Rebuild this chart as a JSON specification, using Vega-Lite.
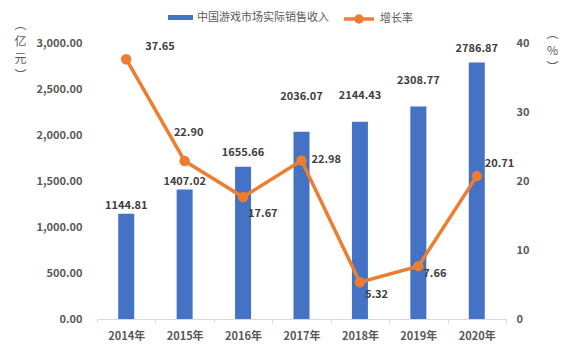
{
  "$schema": "https://vega.github.io/schema/vega-lite/v6.json",
  "width": 409,
  "height": 276,
  "autosize": {"type": "none"},
  "padding": {"left": 97, "top": 43, "right": 61, "bottom": 37},
  "background": "white",
  "config": {
    "font": "Noto Sans CJK SC",
    "view": {"stroke": null},
    "text": {"font": "Noto Sans CJK SC", "fontSize": 11, "fontWeight": "bold", "color": "#404040"},
    "legend": {"labelFont": "Noto Sans CJK SC", "labelFontSize": 11, "labelColor": "#595959", "title": null}
  },
  "data": {
    "values": [
      {"year": "2014年", "revenue": 1144.81, "growth": 37.65},
      {"year": "2015年", "revenue": 1407.02, "growth": 22.90},
      {"year": "2016年", "revenue": 1655.66, "growth": 17.67},
      {"year": "2017年", "revenue": 2036.07, "growth": 22.98},
      {"year": "2018年", "revenue": 2144.43, "growth": 5.32},
      {"year": "2019年", "revenue": 2308.77, "growth": 7.66},
      {"year": "2020年", "revenue": 2786.87, "growth": 20.71}
    ]
  },
  "encoding": {
    "x": {
      "field": "year", "type": "nominal", "sort": null,
      "scale": {"paddingInner": 0, "paddingOuter": 0},
      "axis": {
        "title": null, "labelAngle": 0, "labelFont": "Noto Sans CJK SC", "labelFontSize": 11,
        "labelFontWeight": "bold", "labelColor": "#595959", "labelPadding": 7,
        "domainColor": "#D9D9D9", "tickColor": "#D9D9D9", "tickSize": 4, "tickBand": "extent"
      }
    }
  },
  "layer": [
    {
      "encoding": {
        "y": {
          "field": "revenue", "type": "quantitative",
          "scale": {"domain": [0, 3000]},
          "axis": {
            "orient": "left", "values": [0, 500, 1000, 1500, 2000, 2500, 3000], "format": ",.2f",
            "domain": false, "ticks": false, "tickSize": 0, "grid": false, "labelPadding": 15,
            "labelFont": "Noto Sans CJK SC", "labelFontSize": 11, "labelFontWeight": "bold", "labelColor": "#595959",
            "title": ["︵", "亿", "元", "︶"], "titleAngle": 0, "titleAlign": "center", "titleBaseline": "top",
            "titleX": -77, "titleY": -24, "titleFont": "Noto Sans CJK SC", "titleFontSize": 12,
            "titleFontWeight": "normal", "titleColor": "#595959", "titleLineHeight": 17
          }
        }
      },
      "layer": [
        {
          "mark": {"type": "bar", "size": 16},
          "encoding": {
            "fill": {
              "datum": "中国游戏市场实际销售收入",
              "scale": {"range": ["#4472C4"]},
              "legend": {"orient": "none", "legendX": 71, "legendY": -38, "symbolType": "M-1,-0.2H1V0.2H-1Z", "symbolSize": 625, "symbolStrokeWidth": 0}
            }
          }
        },
        {
          "transform": [{"filter": "datum.year == '2014年' || datum.year == '2015年'"}],
          "mark": {"type": "text", "baseline": "middle", "dy": -8},
          "encoding": {"text": {"field": "revenue", "type": "quantitative", "format": ".2f"}}
        },
        {
          "transform": [{"filter": "datum.year == '2016年' || datum.year == '2020年'"}],
          "mark": {"type": "text", "baseline": "middle", "dy": -14},
          "encoding": {"text": {"field": "revenue", "type": "quantitative", "format": ".2f"}}
        },
        {
          "transform": [{"filter": "datum.year == '2018年' || datum.year == '2019年'"}],
          "mark": {"type": "text", "baseline": "middle", "dy": -26},
          "encoding": {"text": {"field": "revenue", "type": "quantitative", "format": ".2f"}}
        },
        {
          "transform": [{"filter": "datum.year == '2017年'"}],
          "mark": {"type": "text", "baseline": "middle", "dy": -35},
          "encoding": {"text": {"field": "revenue", "type": "quantitative", "format": ".2f"}}
        }
      ]
    },
    {
      "encoding": {
        "y": {
          "field": "growth", "type": "quantitative",
          "scale": {"domain": [0, 40]},
          "axis": {
            "orient": "right", "values": [0, 10, 20, 30, 40],
            "domain": false, "ticks": false, "tickSize": 0, "grid": false, "labelPadding": 10,
            "labelFont": "Noto Sans CJK SC", "labelFontSize": 11, "labelFontWeight": "bold", "labelColor": "#595959",
            "title": ["︵", "%", "︶"], "titleAngle": 0, "titleAlign": "center", "titleBaseline": "top",
            "titleX": 46, "titleY": -15, "titleFont": "Noto Sans CJK SC", "titleFontSize": 12,
            "titleFontWeight": "normal", "titleColor": "#595959", "titleLineHeight": 17
          }
        }
      },
      "layer": [
        {
          "mark": {"type": "line", "strokeWidth": 3.5},
          "encoding": {
            "stroke": {
              "datum": "增长率",
              "scale": {"range": ["#ED7D31"]},
              "legend": {"orient": "none", "legendX": 245, "legendY": -41, "symbolType": "M-1,0H1M-0.2,0A0.2,0.2 0 1,1 0.2,0A0.2,0.2 0 1,1 -0.2,0Z", "symbolSize": 900, "symbolStrokeWidth": 3.5, "symbolFillColor": "#ED7D31"}
            }
          }
        },
        {
          "mark": {"type": "point", "filled": true, "size": 110, "color": "#ED7D31", "opacity": 1}
        },
        {
          "transform": [{"filter": "datum.year == '2014年'"}],
          "mark": {"type": "text", "align": "left", "baseline": "middle", "dx": 19, "dy": -12},
          "encoding": {"text": {"field": "growth", "type": "quantitative", "format": ".2f"}}
        },
        {
          "transform": [{"filter": "datum.year == '2015年'"}],
          "mark": {"type": "text", "align": "center", "baseline": "middle", "dx": 4, "dy": -28},
          "encoding": {"text": {"field": "growth", "type": "quantitative", "format": ".2f"}}
        },
        {
          "transform": [{"filter": "datum.year == '2016年'"}],
          "mark": {"type": "text", "align": "left", "baseline": "middle", "dx": 5, "dy": 17},
          "encoding": {"text": {"field": "growth", "type": "quantitative", "format": ".2f"}}
        },
        {
          "transform": [{"filter": "datum.year == '2017年'"}],
          "mark": {"type": "text", "align": "left", "baseline": "middle", "dx": 10, "dy": 0},
          "encoding": {"text": {"field": "growth", "type": "quantitative", "format": ".2f"}}
        },
        {
          "transform": [{"filter": "datum.year == '2018年'"}],
          "mark": {"type": "text", "align": "left", "baseline": "middle", "dx": 5, "dy": 13},
          "encoding": {"text": {"field": "growth", "type": "quantitative", "format": ".2f"}}
        },
        {
          "transform": [{"filter": "datum.year == '2019年'"}],
          "mark": {"type": "text", "align": "left", "baseline": "middle", "dx": 5, "dy": 8},
          "encoding": {"text": {"field": "growth", "type": "quantitative", "format": ".2f"}}
        },
        {
          "transform": [{"filter": "datum.year == '2020年'"}],
          "mark": {"type": "text", "align": "left", "baseline": "middle", "dx": 8, "dy": -12},
          "encoding": {"text": {"field": "growth", "type": "quantitative", "format": ".2f"}}
        }
      ]
    }
  ],
  "resolve": {"scale": {"y": "independent", "fill": "independent", "stroke": "independent"}}
}
